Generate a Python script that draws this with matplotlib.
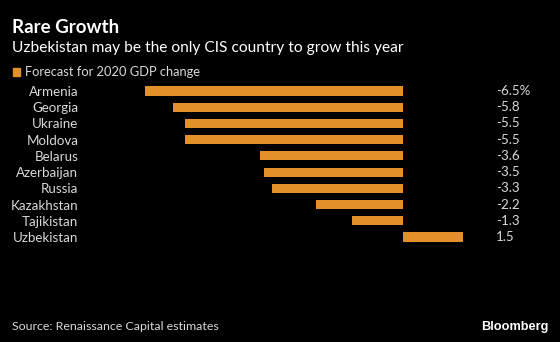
import matplotlib
matplotlib.use("Agg")
import matplotlib.pyplot as plt
from matplotlib.transforms import blended_transform_factory
from matplotlib.patches import Rectangle

countries = ["Armenia", "Georgia", "Ukraine", "Moldova", "Belarus",
             "Azerbaijan", "Russia", "Kazakhstan", "Tajikistan", "Uzbekistan"]
gdp_change = [-6.5, -5.8, -5.5, -5.5, -3.6, -3.5, -3.3, -2.2, -1.3, 1.5]
value_labels = ["-6.5%", "-5.8", "-5.5", "-5.5", "-3.6", "-3.5", "-3.3", "-2.2", "-1.3", "1.5"]

BG = "#000000"
BAR = "#E38F2C"
TXT = "#D9D9D9"

plt.rcParams["font.family"] = ["Lato", "DejaVu Sans"]

W, H = 560, 342
fig = plt.figure(figsize=(W / 100, H / 100), dpi=100, facecolor=BG)

ax = fig.add_axes([145 / W, 1 - 245.1 / H, 318 / W, 162.2 / H])
ax.set_facecolor(BG)
y = list(range(len(countries)))
ax.barh(y, gdp_change, height=0.56, color=BAR)
ax.set_xlim(-6.5, 1.5)
ax.set_ylim(len(countries) - 0.5, -0.5)
ax.set_xticks([])
ax.set_yticks(y)
ax.set_yticklabels(countries, color=TXT, fontsize=9.6)
ax.tick_params(axis="y", length=0, pad=48)
for s in ax.spines.values():
    s.set_visible(False)

trans = blended_transform_factory(ax.transAxes, ax.transData)
for yi, lab in zip(y, value_labels):
    ax.text((496 - 145) / 318, yi, lab, transform=trans, color=TXT,
            fontsize=9.6, ha="left", va="center")

fig.text(12 / W, 1 - 33 / H, "Rare Growth", color="white", fontsize=13.5,
         fontweight="bold", ha="left", va="baseline")
fig.text(12 / W, 1 - 52 / H, "Uzbekistan may be the only CIS country to grow this year",
         color="white", fontsize=11.2, ha="left", va="baseline")

fig.patches.append(Rectangle((13 / W, 1 - 76 / H), 7 / W, 8 / H,
                             transform=fig.transFigure, color=BAR))
fig.text(25 / W, 1 - 72 / H, "Forecast for 2020 GDP change", color=TXT,
         fontsize=9.3, ha="left", va="center")

fig.text(12 / W, 1 - 330 / H, "Source: Renaissance Capital estimates", color=TXT,
         fontsize=8.9, ha="left", va="baseline")
fig.text(548 / W, 1 - 330 / H, "Bloomberg", color="white", fontsize=9.2,
         fontweight="bold", ha="right", va="baseline", family=["Liberation Sans", "DejaVu Sans"])

fig.savefig("out.png", dpi=100, facecolor=BG)
